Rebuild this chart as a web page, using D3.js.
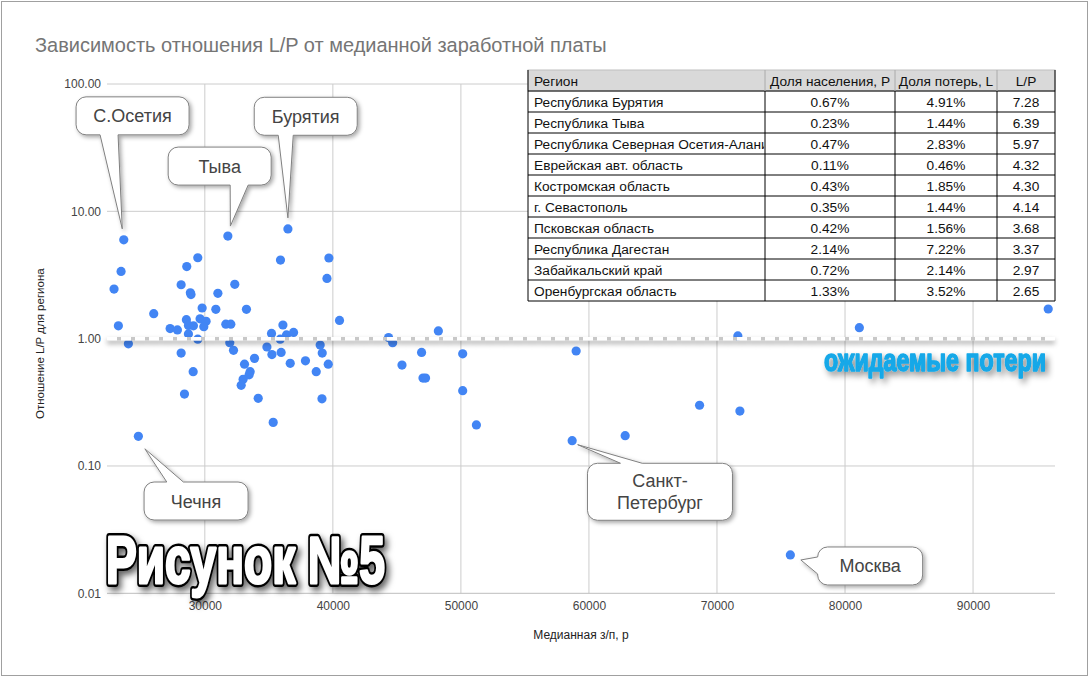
<!DOCTYPE html>
<html><head><meta charset="utf-8">
<script src="https://cdn.jsdelivr.net/npm/d3@7"></script>
<style>
body{margin:0;background:#fff;}
text{font-family:"Liberation Sans",Arial,sans-serif;}
</style></head>
<body><svg id="c" width="1090" height="677"></svg>
<script>
// ---- data ----
const salary = [23670,31800,36490,23460,22910,29450,28590,35910,39690,39540,28150,28870,28920,32340,31020,26010,29790,30860,33250,40520,
 23250,28560,29630,30100,28720,29110,29920,27290,27860,31640,32030,36100,35210,36930,36380,28720,29450,35890,24030,31950,
 32240,34850,35240,35960,39010,39170,28150,33880,33100,36670,37860,39640,38700,29090,33540,33460,32990,32840,28410,34170,
 39150,35340,24810,48240,44350,44670,46930,50140,45400,47040,47240,50140,51210,59000,71630,81120,95870,68640,71790,62830,
 58690,75730];
const ratio = [5.97,6.39,7.28,3.37,2.45,4.32,3.68,4.14,4.30,2.97,2.65,2.29,2.22,2.67,2.27,1.57,1.74,1.70,1.70,1.39,
 1.26,1.41,1.43,1.37,1.27,1.26,1.24,1.20,1.17,1.30,1.30,1.28,1.10,1.12,1.07,1.09,0.99,0.99,0.91,0.93,
 0.81,0.86,0.75,0.78,0.89,0.77,0.77,0.70,0.63,0.64,0.67,0.63,0.55,0.55,0.55,0.52,0.48,0.43,0.367,0.34,
 0.337,0.22,0.171,1.15,1.02,0.93,0.78,0.76,0.62,0.49,0.49,0.39,0.21,0.80,1.05,1.22,1.71,0.30,0.27,0.173,
 0.158,0.020];
const xTicks = [30000,40000,50000,60000,70000,80000,90000];
const yTicks = [0.01,0.1,1,10,100];
const yTickLabels = ["0.01","0.10","1.00","10.00","100.00"];
const expectedRatio = 1;

const tableHeader = ["Регион","Доля населения, P","Доля потерь, L","L/P"];
const tableRegions = ["Республика Бурятия","Республика Тыва","Республика Северная Осетия-Алания","Еврейская авт. область","Костромская область","г. Севастополь","Псковская область","Республика Дагестан","Забайкальский край","Оренбургская область"];
const tablePop = ["0.67%","0.23%","0.47%","0.11%","0.43%","0.35%","0.42%","2.14%","0.72%","1.33%"];
const tableLoss = ["4.91%","1.44%","2.83%","0.46%","1.85%","1.44%","1.56%","7.22%","2.14%","3.52%"];
const tableLP = ["7.28","6.39","5.97","4.32","4.30","4.14","3.68","3.37","2.97","2.65"];

const calloutLabels = [["С.Осетия"],["Тыва"],["Бурятия"],["Чечня"],["Санкт-","Петербург"],["Москва"]];
const calloutPoint = [0,1,2,62,80,81];

// ---- layout ----
const svg = d3.select("#c");
const L=107,R=1055,T=84,B=593.3;
const x = d3.scaleLinear().domain([22360,96400]).range([L,R]);
const y = d3.scaleLog().domain([0.01,100]).range([B,T]);

const defs = svg.append("defs");
function shadow(id,dx,dy,sd,op){
  const f=defs.append("filter").attr("id",id).attr("filterUnits","userSpaceOnUse").attr("x",0).attr("y",0).attr("width",1090).attr("height",677);
  f.append("feDropShadow").attr("dx",dx).attr("dy",dy).attr("stdDeviation",sd).attr("flood-color","#000").attr("flood-opacity",op);
}
shadow("sh1",2,2,2,0.35);
shadow("sh2",3,4,3,0.6);
shadow("sh3",0,3,2.5,0.35);
shadow("sh4",3,4,3,0.45);

// fit a text horizontally into a given width by scaling its group
function fitText(g, x0, yb, width){
  const t = g.select("text");
  const w = t.node().getComputedTextLength();
  const s = width / w;
  g.attr("transform", `translate(${x0},${yb}) scale(${s},1)`);
}

// frame
svg.append("rect").attr("x",1.5).attr("y",1.5).attr("width",1086).attr("height",674).attr("fill","none").attr("stroke","#a0a0a0");

// title
const tgT = svg.append("g");
tgT.append("text").attr("x",0).attr("y",0).attr("font-size",19.5).attr("fill","#757575").text("Зависимость отношения L/P от медианной заработной платы");
fitText(tgT,35,52,572);

// grid
const grid = svg.append("g");
grid.selectAll(".vg").data(xTicks).join("line").attr("x1",d=>x(d)).attr("x2",d=>x(d)).attr("y1",T).attr("y2",B).attr("stroke","#cccccc");
grid.selectAll(".hg").data(yTicks).join("line").attr("x1",L).attr("x2",R).attr("y1",d=>y(d)).attr("y2",d=>y(d)).attr("stroke",d=>d===0.01?"#bdbdbd":"#cccccc");

// axes labels
const xa = d3.axisBottom(x).tickValues(xTicks).tickFormat(d3.format("d")).tickSize(0).tickPadding(0);
const xg = svg.append("g").attr("transform",`translate(0,${B})`).call(xa);
xg.select(".domain").remove();
xg.selectAll("text").attr("dy",0).attr("y",16.5).attr("font-size",12).attr("fill","#444").attr("font-family","Liberation Sans, Arial");
const ya = d3.axisLeft(y).tickValues(yTicks).tickFormat((d,i)=>yTickLabels[i]).tickSize(0).tickPadding(0);
const yg = svg.append("g").attr("transform",`translate(101,0)`).call(ya);
yg.select(".domain").remove();
yg.selectAll("text").attr("font-size",12).attr("fill","#444").attr("font-family","Liberation Sans, Arial");

svg.append("text").attr("x",(L+R)/2).attr("y",639).attr("text-anchor","middle").attr("font-size",12).attr("fill","#222").text("Медианная з/п, р");
svg.append("text").attr("transform",`translate(44,${(T+B)/2+5}) rotate(-90)`).attr("text-anchor","middle").attr("font-size",11.5).attr("fill","#222").text("Отношение L/P для региона");

// points
svg.append("g").selectAll("circle").data(salary.map((s,i)=>[s,ratio[i]])).join("circle")
  .attr("cx",d=>x(d[0])).attr("cy",d=>y(d[1])).attr("r",4.6).attr("fill","#4285f4");

// expected line
const el = svg.append("g").attr("filter","url(#sh3)");
el.append("line").attr("x1",L).attr("x2",R).attr("y1",y(expectedRatio)).attr("y2",y(expectedRatio)).attr("stroke","#c8c8c8").attr("stroke-width",3.5);
el.append("line").attr("x1",L).attr("x2",R).attr("y1",y(expectedRatio)).attr("y2",y(expectedRatio)).attr("stroke","#fff").attr("stroke-width",3.5).attr("stroke-dasharray","10,4");

const egWrap = svg.append("g").attr("filter","url(#sh4)");
const eg = egWrap.append("g");
eg.append("text").attr("x",0).attr("y",0).attr("font-family","Liberation Sans Narrow, Liberation Sans, Arial").attr("font-weight","bold")
  .attr("font-size",32).attr("fill","#13a8e8")
  .attr("stroke","#13a8e8").attr("stroke-width",1.6).attr("stroke-linejoin","round").text("ожидаемые потери");
fitText(eg,824,371,222);

// table
const colX=[528,765,895,997,1055], tTop=70, hH=21, rH=21;
const tg = svg.append("g");
const tRows = tableRegions.map((r,i)=>[r,tablePop[i],tableLoss[i],tableLP[i]]);
tg.append("rect").attr("x",colX[0]).attr("y",tTop).attr("width",colX[4]-colX[0]).attr("height",hH+rH*tRows.length).attr("fill","#fff");
tg.append("rect").attr("x",colX[0]).attr("y",tTop).attr("width",colX[4]-colX[0]).attr("height",hH).attr("fill","#d9d9d9").attr("stroke","#c0c0c0");
defs.append("clipPath").attr("id","col0").append("rect").attr("x",colX[0]).attr("y",tTop).attr("width",colX[1]-colX[0]-1).attr("height",300);
tableHeader.forEach((h,j)=>{
  tg.append("text").attr("x",j===0?colX[0]+6:(colX[j]+colX[j+1])/2).attr("y",tTop+15.5).attr("text-anchor",j===0?"start":"middle")
    .attr("font-size",13.7).attr("fill","#111").text(h);
});
tRows.forEach((row,i)=>{
  const yy = tTop+hH+rH*i;
  row.forEach((c,j)=>{
    const t=tg.append("text").attr("x",j===0?colX[0]+6:(colX[j]+colX[j+1])/2).attr("y",yy+15.5).attr("text-anchor",j===0?"start":"middle")
      .attr("font-size",13.7).attr("fill","#111").text(c);
    if(j===0) t.attr("clip-path","url(#col0)");
  });
});
const tb = tTop+hH+rH*tRows.length;
for(let i=0;i<=tRows.length;i++){
  tg.append("line").attr("x1",colX[0]).attr("x2",colX[4]).attr("y1",tTop+hH+rH*i).attr("y2",tTop+hH+rH*i).attr("stroke","#000");
}
colX.forEach((cx,j)=>{
  tg.append("line").attr("x1",cx).attr("x2",cx).attr("y1",tTop+hH).attr("y2",tb).attr("stroke","#000");
  tg.append("line").attr("x1",cx).attr("x2",cx).attr("y1",tTop).attr("y2",tTop+hH).attr("stroke",(j===0||j===4)?"#000":"#aaa");
});

// callouts: box offsets relative to data point, pointer side
const co = [
 {dx:-47.7,dy:-143,w:113,h:38,side:"bottom",b:[-23.7,-5.7],tip:[-1.5,-11]},
 {dx:-59.7,dy:-89,w:103,h:38,side:"bottom",b:[2.3,20.3],tip:[2.5,-10]},
 {dx:-33.7,dy:-131.6,w:103,h:38,side:"bottom",b:[-9.7,5.3],tip:[0,-11]},
 {dx:5.7,dy:45.7,w:104,h:38,side:"top",b:[28.4,45],tip:[6.5,12.5]},
 {dx:15.3,dy:22.6,w:145,h:57,side:"top",b:[48.3,70],tip:[5.5,4]},
 {dx:27.3,dy:-8,w:105,h:38,side:"left",b:[3,17],tip:[10.5,5]}
];
function calloutPath(bx,by,w,h,r,side,b1,b2,tx,ty){
  const p=[];
  p.push(`M${bx+r},${by}`);
  if(side==="top") p.push(`H${b1}L${tx},${ty}L${b2},${by}`);
  p.push(`H${bx+w-r}A${r},${r} 0 0 1 ${bx+w},${by+r}V${by+h-r}A${r},${r} 0 0 1 ${bx+w-r},${by+h}`);
  if(side==="bottom") p.push(`H${b2}L${tx},${ty}L${b1},${by+h}`);
  p.push(`H${bx+r}A${r},${r} 0 0 1 ${bx},${by+h-r}`);
  if(side==="left") p.push(`V${b2}L${tx},${ty}L${bx},${b1}`);
  p.push(`V${by+r}A${r},${r} 0 0 1 ${bx+r},${by}Z`);
  return p.join("");
}
const cg = svg.append("g");
co.forEach((c,i)=>{
  const k=calloutPoint[i], px=x(salary[k]), py=y(ratio[k]);
  const bx=px+c.dx, by=py+c.dy;
  let b1,b2;
  if(c.side==="left"){b1=Math.max(by+c.b[0],by+10);b2=by+c.b[1]+10;}
  else {b1=px+c.b[0];b2=px+c.b[1];}
  cg.append("path").attr("d",calloutPath(bx,by,c.w,c.h,10,c.side,b1,b2,px+c.tip[0],py+c.tip[1]))
    .attr("fill","#fff").attr("stroke","#808080").attr("stroke-width",1).attr("filter","url(#sh1)");
  const lines=calloutLabels[i];
  lines.forEach((t,li)=>{
    cg.append("text").attr("x",bx+c.w/2).attr("y",by+c.h/2+6.5+(li-(lines.length-1)/2)*22).attr("text-anchor","middle")
      .attr("font-size",18).attr("fill","#444").text(t);
  });
});

// big label
const blWrap = svg.append("g");
const blShadow = blWrap.append("g").attr("filter","url(#sh2)").append("g");
const blFront = blWrap.append("g");
const bigAttrs = s => s.attr("x",0).attr("y",0).attr("font-family","Liberation Sans Narrow, Liberation Sans, Arial").attr("font-weight","bold")
  .attr("font-size",66).attr("stroke-linejoin","round");
bigAttrs(blShadow.append("text")).attr("fill","#000").attr("stroke","#000").attr("stroke-width",8).text("Рисунок №5");
bigAttrs(blFront.append("text")).attr("fill","#fff").attr("stroke","#fff").attr("stroke-width",3).text("Рисунок №5");
fitText(blShadow,106,583,279);
fitText(blFront,106,583,279);
</script></body></html>
